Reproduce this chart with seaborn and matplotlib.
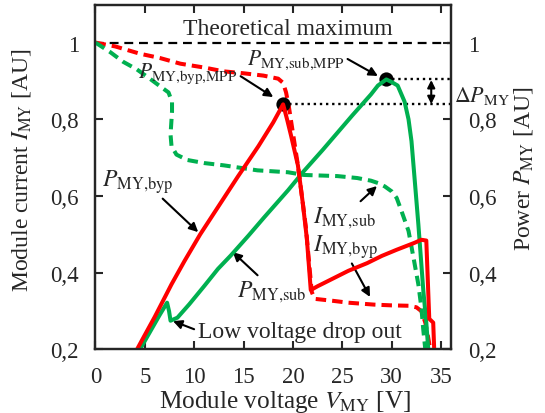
import numpy as np
import pandas as pd
import matplotlib
matplotlib.use("Agg")
import matplotlib.pyplot as plt
import seaborn as sns

# ---------------- data ----------------
# Red dashed: module current with bypass diode (I_MY,byp)
i_byp_v = [0, 2, 4.5, 6.5, 8.6, 11, 13, 15, 17, 18.5, 19.0, 19.3, 19.6, 20.5, 21.3, 21.9,
           22.2, 24, 25.6, 28.2, 30, 31.7, 32.5, 33.0, 33.4, 33.7, 33.9]
i_byp_i = [1, 0.99, 0.971, 0.96, 0.945, 0.935, 0.925, 0.92, 0.914, 0.906, 0.895, 0.87, 0.83,
           0.68, 0.52, 0.35, 0.332, 0.327, 0.322, 0.317, 0.315, 0.314, 0.31, 0.30, 0.27, 0.23, 0.2]

# Red solid: power with bypass diode (P_MY,byp)
p_byp_v = [4.2, 5.0, 6.0, 7.7, 9.0, 10.6, 12.5, 14.4, 16.5, 18.0, 19.0, 19.4, 19.8, 20.5,
           21.0, 21.4, 21.8, 22.5, 23.2, 25.6, 27.5, 29.0, 30.5, 32.3, 33.0, 33.5, 33.8,
           34.2, 34.3]
p_byp_p = [0.2, 0.238, 0.285, 0.37, 0.43, 0.5, 0.575, 0.65, 0.73, 0.792, 0.839, 0.80,
           0.758, 0.68, 0.58, 0.49, 0.355, 0.365, 0.374, 0.405, 0.425, 0.444, 0.46, 0.478,
           0.486, 0.484, 0.28, 0.27, 0.2]

# Green dashed: module current with substring converter (I_MY,sub)
i_sub_v = [0, 1.5, 2.8, 4.2, 5.5, 6.6, 7.4, 7.75, 7.75, 7.6, 7.7, 8.2, 9.3, 11, 13, 16.4,
           19.5, 21.1, 24.5, 26.5, 27.9, 28.6, 29.3, 30, 30.5, 31, 31.7, 32.2, 32.7, 33.0,
           33.2, 33.4]
i_sub_i = [1, 0.975, 0.95, 0.93, 0.906, 0.885, 0.87, 0.845, 0.82, 0.76, 0.73, 0.708, 0.694,
           0.686, 0.68, 0.667, 0.662, 0.655, 0.652, 0.647, 0.64, 0.634, 0.625, 0.612, 0.595,
           0.56, 0.509, 0.44, 0.369, 0.309, 0.25, 0.2]

# Green solid: power with substring converter (P_MY,sub)
p_sub_v = [4.5, 5.5, 6.5, 7.25, 7.45, 7.6, 8.3, 9.5, 11, 12.4, 13.7, 15.5, 17.1, 19.5,
           21.1, 23, 24.5, 26, 27.9, 28.6, 29.45, 30.0, 30.6, 31.3, 31.7, 32.0, 32.3, 32.7,
           33.2, 33.5, 33.7]
p_sub_p = [0.2, 0.245, 0.29, 0.322, 0.30, 0.275, 0.283, 0.318, 0.365, 0.41, 0.445, 0.497,
           0.545, 0.615, 0.665, 0.72, 0.765, 0.81, 0.865, 0.888, 0.904, 0.897, 0.888, 0.846,
           0.8, 0.743, 0.65, 0.525, 0.353, 0.27, 0.2]

# maximum power points
mpp_v = [19.0, 29.45]
mpp_p = [0.839, 0.904]

theo_v = [0, 36]
theo_p = [1, 1]

x_ticks = [0, 5, 10, 15, 20, 25, 30, 35]
y_ticks = [0.2, 0.4, 0.6, 0.8, 1.0]
y_tick_labels = ["0,2", "0,4", "0,6", "0,8", "1"]

RED = "#ff0000"
GREEN = "#00b050"

# ---------------- style ----------------
sns.set_style("ticks")
plt.rcParams["font.family"] = ["Liberation Serif", "DejaVu Serif"]
plt.rcParams["mathtext.fontset"] = "stix"
TFS = 16.5   # tick labels
FS = 17      # texts and axis labels

fig = plt.figure(figsize=(5.45, 4.14), dpi=100)
ax = fig.add_axes([0.1752, 0.1534, 0.6523, 0.8321])

def line(x, y, color, ls, lw, z):
    df = pd.DataFrame({"V": x, "Y": y})
    sns.lineplot(data=df, x="V", y="Y", ax=ax, sort=False, estimator=None,
                 color=color, linestyle=ls, linewidth=lw, zorder=z)

line(theo_v, theo_p, "black", (0, (4, 2.6)), 1.6, 2)
line(i_byp_v, i_byp_i, RED, (0, (2.6, 1.5)), 2.9, 3)
line(i_sub_v, i_sub_i, GREEN, (0, (2.6, 1.5)), 2.9, 3)

# dotted guide lines from MPPs to right spine
for v, p in zip(mpp_v, mpp_p):
    ax.plot([v, 36], [p, p], color="black", linestyle=(0, (1, 1.6)), linewidth=1.7, zorder=2)

# MPP markers
mdf = pd.DataFrame({"V": mpp_v, "P": mpp_p})
sns.scatterplot(data=mdf, x="V", y="P", ax=ax, color="black", s=105, zorder=4,
                edgecolor="black", linewidth=0)

line(p_sub_v, p_sub_p, GREEN, "-", 2.9, 5)
line(p_byp_v, p_byp_p, RED, "-", 2.9, 6)

ax.set_xlim(0, 36)
ax.set_ylim(0.2, 1.098)
ax.set_xticks(x_ticks)
ax.set_xticklabels([str(t) for t in x_ticks], fontsize=TFS)
ax.set_yticks(y_ticks)
ax.set_yticklabels(y_tick_labels, fontsize=TFS)
ax.tick_params(axis="both", direction="in", length=6, width=1.5, pad=12)
ax.tick_params(axis="x", top=True, bottom=True)
ax.tick_params(axis="y", left=True, right=False)
for s in ax.spines.values():
    s.set_linewidth(1.6)
    s.set_visible(True)

ax.set_xlabel(r"Module voltage $V_{\text{MY}}$ [V]", fontsize=18.2)
ax.xaxis.set_label_coords(0.533, -0.113)
ax.set_ylabel(r"Module current $I_{\text{MY}}$ [AU]", fontsize=FS)
ax.yaxis.set_label_coords(-0.177, 0.524)

ax2 = ax.twinx()
ax2.set_ylim(0.2, 1.098)
ax2.set_yticks(y_ticks)
ax2.set_yticklabels(y_tick_labels, fontsize=TFS)
ax2.tick_params(axis="y", direction="in", length=6, width=1.5, pad=12)
ax2.set_ylabel(r"Power $P_{\text{MY}}$ [AU]", fontsize=FS)
ax2.yaxis.set_label_coords(1.173, 0.527)
for s in ax2.spines.values():
    s.set_linewidth(1.6)

# ---------------- annotations ----------------
ax.text(19.5, 1.022, "Theoretical maximum", fontsize=FS, ha="center", va="baseline")

arrow = dict(arrowstyle="-|>", color="black", lw=1.5, mutation_scale=13, shrinkA=0, shrinkB=0)

ax.annotate(r"$P_{\text{MY,sub,MPP}}$", xy=(28.6, 0.913), xytext=(15.3, 0.944),
            fontsize=15.5, ha="left", va="baseline", arrowprops=dict(arrow, relpos=(1.0, 0.6)))
ax.annotate(r"$P_{\text{MY,byp,MPP}}$", xy=(18.0, 0.858), xytext=(4.3, 0.91),
            fontsize=15.5, ha="left", va="baseline", arrowprops=dict(arrow, relpos=(1.0, 0.45)))
ax.annotate(r"$P_{\text{MY,byp}}$", xy=(10.4, 0.506), xytext=(0.66, 0.626),
            fontsize=FS, ha="left", va="baseline", arrowprops=dict(arrow, relpos=(0.8, 0.0)))
ax.annotate(r"$P_{\text{MY,sub}}$", xy=(13.9, 0.454), xytext=(14.3, 0.339),
            fontsize=FS, ha="left", va="baseline", arrowprops=dict(arrow, relpos=(0.35, 1.0)))
ax.annotate(r"$I_{\text{MY,sub}}$", xy=(28.5, 0.626), xytext=(22.0, 0.532),
            fontsize=FS, ha="left", va="baseline", arrowprops=dict(arrow, relpos=(0.7, 1.0)))
ax.annotate(r"$I_{\text{MY,byp}}$", xy=(27.8, 0.337), xytext=(22.0, 0.457),
            fontsize=FS, ha="left", va="baseline", arrowprops=dict(arrow, relpos=(0.55, 0.1)))
ax.annotate("Low voltage drop out", xy=(7.85, 0.274), xytext=(10.4, 0.233),
            fontsize=FS, ha="left", va="baseline", arrowprops=dict(arrow, relpos=(-0.02, 0.6)))

ax.annotate("", xy=(34.0, 0.836), xytext=(34.0, 0.906),
            arrowprops=dict(arrowstyle="<|-|>", color="black", lw=1.5, mutation_scale=11,
                            shrinkA=1, shrinkB=1))
ax.text(36.3, 0.848, r"$\Delta P_{\text{MY}}$", fontsize=15.8, ha="left", va="baseline",
        clip_on=False)

fig.savefig("out.png", dpi=100)
